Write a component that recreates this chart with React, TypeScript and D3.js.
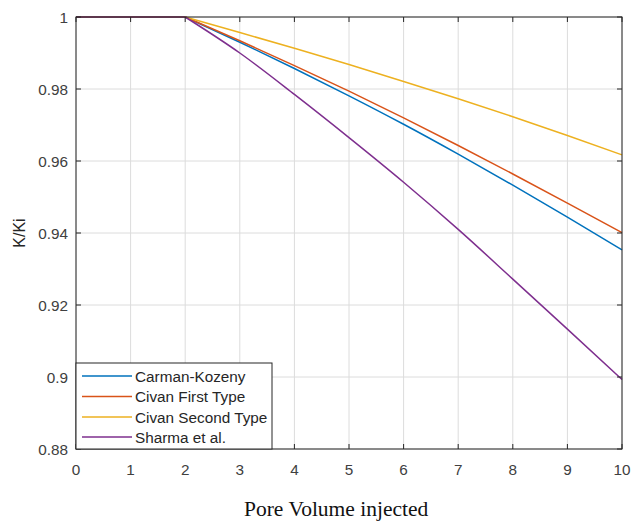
import React from "react";
import * as d3 from "d3";

const xValues = [0, 1, 2, 3, 4, 5, 6, 7, 8, 9, 10];
const carmanKozeny = [1, 1, 1, 0.993, 0.9857, 0.9781, 0.9702, 0.9619, 0.9533, 0.9444, 0.9353];
const civanFirst = [1, 1, 1, 0.9934, 0.9865, 0.9794, 0.972, 0.9643, 0.9564, 0.9483, 0.9401];
const civanSecond = [1, 1, 1, 0.9957, 0.9913, 0.9868, 0.9821, 0.9773, 0.9723, 0.9671, 0.9617];
const sharma = [1, 1, 1, 0.99, 0.9785, 0.9665, 0.9541, 0.941, 0.9272, 0.9133, 0.8993];

const seriesNames = ["Carman-Kozeny", "Civan First Type", "Civan Second Type", "Sharma et al."];
const seriesColors = ["#0072BD", "#D95319", "#EDB120", "#7E2F8E"];
const seriesValues = [carmanKozeny, civanFirst, civanSecond, sharma];

const xTicks = [0, 1, 2, 3, 4, 5, 6, 7, 8, 9, 10];
const yTicks = [0.88, 0.9, 0.92, 0.94, 0.96, 0.98, 1];
const yTickLabels = ["0.88", "0.9", "0.92", "0.94", "0.96", "0.98", "1"];

export default function App() {
  const W = 633, H = 521;
  const left = 76, right = 622, top = 17, bottom = 449;
  const x = d3.scaleLinear().domain([0, 10]).range([left, right]);
  const y = d3.scaleLinear().domain([0.88, 1]).range([bottom, top]);
  const axisColor = "#262626";
  const font = "'Liberation Sans', Arial, Helvetica, sans-serif";

  const flat = d3.line<[number, number]>().x(d => x(d[0])).y(d => y(d[1]));
  const curved = d3.line<[number, number]>().x(d => x(d[0])).y(d => y(d[1])).curve(d3.curveMonotoneX);

  const legendTop = 363, legendLeft = 76, legendRight = 272;
  const rowY = [376, 396.5, 417, 437];

  return (
    <svg width={W} height={H} style={{ position: "absolute", left: 0, top: 0, background: "#fff" }}>
      <rect x={0} y={0} width={W} height={H} fill="#fff" />
      {xTicks.map(t => (
        <line key={"gx" + t} x1={x(t)} x2={x(t)} y1={top} y2={bottom} stroke="#dcdcdc" strokeWidth={1} />
      ))}
      {yTicks.map(t => (
        <line key={"gy" + t} x1={left} x2={right} y1={y(t)} y2={y(t)} stroke="#dcdcdc" strokeWidth={1} />
      ))}
      {seriesValues.map((vals, i) => {
        const pts: [number, number][] = xValues.map((xv, j) => [xv, vals[j]]);
        const firstPart = pts.filter(p => p[0] <= 2);
        const secondPart = pts.filter(p => p[0] >= 2);
        return (
          <g key={"s" + i} fill="none" stroke={seriesColors[i]} strokeWidth={1.5}>
            <path d={flat(firstPart) || ""} />
            <path d={curved(secondPart) || ""} />
          </g>
        );
      })}
      <rect x={left} y={top} width={right - left} height={bottom - top} fill="none" stroke={axisColor} strokeWidth={1} />
      {xTicks.map(t => (
        <g key={"tx" + t} stroke={axisColor}>
          <line x1={x(t)} x2={x(t)} y1={bottom} y2={bottom - 5} />
          <line x1={x(t)} x2={x(t)} y1={top} y2={top + 5} />
        </g>
      ))}
      {yTicks.map(t => (
        <g key={"ty" + t} stroke={axisColor}>
          <line x1={left} x2={left + 5} y1={y(t)} y2={y(t)} />
          <line x1={right} x2={right - 5} y1={y(t)} y2={y(t)} />
        </g>
      ))}
      {xTicks.map(t => (
        <text key={"lx" + t} x={x(t)} y={475} textAnchor="middle" fontFamily={font} fontSize={15.3} fill="#404040">
          {String(t)}
        </text>
      ))}
      {yTicks.map((t, i) => (
        <text key={"ly" + t} x={left - 8} y={y(t) + 5.5} textAnchor="end" fontFamily={font} fontSize={15.3} fill="#404040">
          {yTickLabels[i]}
        </text>
      ))}
      <text x={25} y={233} transform="rotate(-90 25 233)" textAnchor="middle" fontFamily={font} fontSize={16} fill="#262626">
        K/Ki
      </text>
      <text x={244} y={516} textAnchor="start" fontFamily="'Liberation Serif', 'Times New Roman', serif" fontSize={21.5} fill="#111">
        Pore Volume injected
      </text>
      <rect x={legendLeft} y={legendTop} width={legendRight - legendLeft} height={bottom - legendTop} fill="#fff" stroke={axisColor} strokeWidth={1} />
      {seriesNames.map((name, i) => (
        <g key={"lg" + i}>
          <line x1={82} x2={132} y1={rowY[i]} y2={rowY[i]} stroke={seriesColors[i]} strokeWidth={1.5} />
          <text x={135} y={rowY[i] + 5.5} fontFamily={font} fontSize={15.3} fill="#262626">
            {name}
          </text>
        </g>
      ))}
    </svg>
  );
}
